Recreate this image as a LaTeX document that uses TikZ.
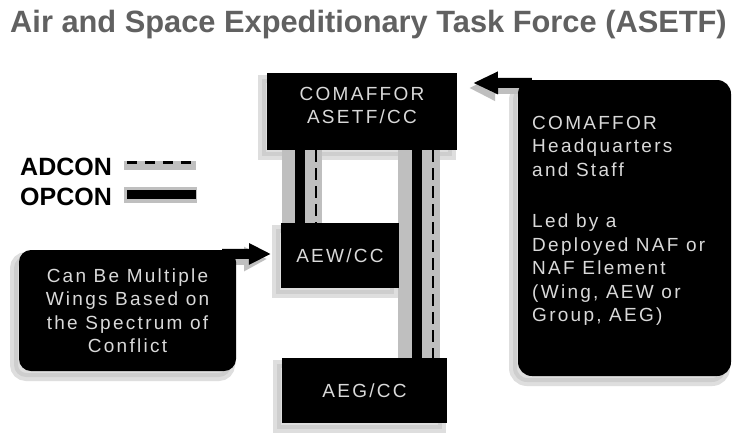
\documentclass[tikz,border=0pt]{standalone}
\usepackage{fontspec}
\setmainfont{Liberation Sans}
\newfontfamily\boxfont[LetterSpace=12]{Liberation Sans}
\usetikzlibrary{arrows.meta,shadows}
\begin{document}
\begin{tikzpicture}[x=1pt,y=-1pt,
  glow/.style={drop shadow={shadow xshift=-5pt, shadow yshift=-6pt, fill=gray!50, draw=gray!50, line width=8pt}},
  blackbox/.style={fill=black, draw=none, inner sep=0pt, align=center,
    font=\boxfont\fontsize{19}{23.5}\selectfont, text=gray!30, glow},
  boxtext/.style={inner sep=0pt, text=gray!30,
    font=\boxfont\fontsize{19}{23.5}\selectfont},
  legendtext/.style={inner sep=0pt, font=\bfseries\fontsize{25}{25}\selectfont, text=black},
  opcon/.style={line width=10pt, black},
  adcon/.style={line width=2.6pt, black, dash pattern=on 12pt off 6pt},
  glowline/.style={line width=40pt, gray!50},
  pointer/.style={line width=10pt, black, -{Triangle[length=25pt,width=21pt]}},
  pointerglow/.style={line width=12pt, gray!50, -{Triangle[length=26pt,width=24pt]}},
]
\useasboundingbox[fill=white] (0,0) rectangle (733,442);

% title
\node[anchor=base west, inner sep=0pt, text=black!62, font=\bfseries\fontsize{30.8}{31}\selectfont]
  (title) at (10,32) {Air and Space Expeditionary Task Force (ASETF)};

% legend
\node[legendtext, anchor=base west] (adconlbl) at (20,175) {ADCON};
\node[legendtext, anchor=base west] (opconlbl) at (20,205) {OPCON};
\draw[line width=9pt, gray!50] ([shift={(12,-10)}]adconlbl.base east) -- ++(72,0);
\draw[adcon, dash pattern=on 10pt off 8pt, line width=3pt] ([shift={(15,-13)}]adconlbl.base east) -- ++(69,0);
\draw[line width=16pt, gray!50] ([shift={(12,-10)}]opconlbl.base east) -- ++(73,0);
\draw[line width=9pt, black] ([shift={(15,-11)}]opconlbl.base east) -- ++(69,0);

% connector glows (drawn first)
\draw[glowline] (302,150) -- (302,225);
\draw[glowline, line width=42pt] (419,150) -- (419,360);

% boxes
\node[blackbox, minimum width=190pt, minimum height=77pt] (comaffor) at (362,111.5) {};
\node[boxtext, align=center] (comafforlbl) at (362,105.5) {COMAFFOR\\ASETF/CC};
\node[blackbox, minimum width=118pt, minimum height=65pt] (aew) at (340,255.5) {AEW/CC};
\node[blackbox, minimum width=165pt, minimum height=65pt] (aeg) at (364.5,390.5) {AEG/CC};

% connectors
\draw[opcon] ([xshift=-62pt]comaffor.south) -- ([xshift=-62pt]comaffor.south |- aew.north);
\draw[adcon] ([xshift=-46pt]comaffor.south) -- ([xshift=-46pt]comaffor.south |- aew.north);
\draw[opcon] ([xshift=55pt]comaffor.south) -- ([xshift=55pt]comaffor.south |- aeg.north);
\draw[adcon] ([xshift=71pt]comaffor.south) -- ([xshift=71pt]comaffor.south |- aeg.north);

% right callout
\coordinate (rtip) at (473,83);
\draw[pointerglow] (530,88) -- (469,88);
\node[blackbox, rounded corners=14pt, minimum width=213pt, minimum height=296pt] (rbox) at (624.5,228) {};
\node[boxtext, align=left, anchor=north west] (rtext) at (532,116)
  {COMAFFOR\\Headquarters\\and Staff\\[28pt]Led by a\\Deployed NAF or\\NAF Element\\(Wing, AEW or\\Group, AEG)};
\draw[pointer] ([shift={(14,3)}]rbox.north west) -- (rtip);

% left callout
\coordinate (ltip) at (271,254);
\draw[pointerglow, -{Triangle[length=23pt,width=23pt]}] (215,259) -- (267,259);
\node[blackbox, rounded corners=12pt, minimum width=217pt, minimum height=121pt] (lbox) at (127.5,310.5)
  {Can Be Multiple\\Wings Based on\\the Spectrum of\\Conflict};
\draw[pointer, -{Triangle[length=22pt,width=20pt]}] ([shift={(-14,4)}]lbox.north east) -- (ltip);
\end{tikzpicture}
\end{document}
